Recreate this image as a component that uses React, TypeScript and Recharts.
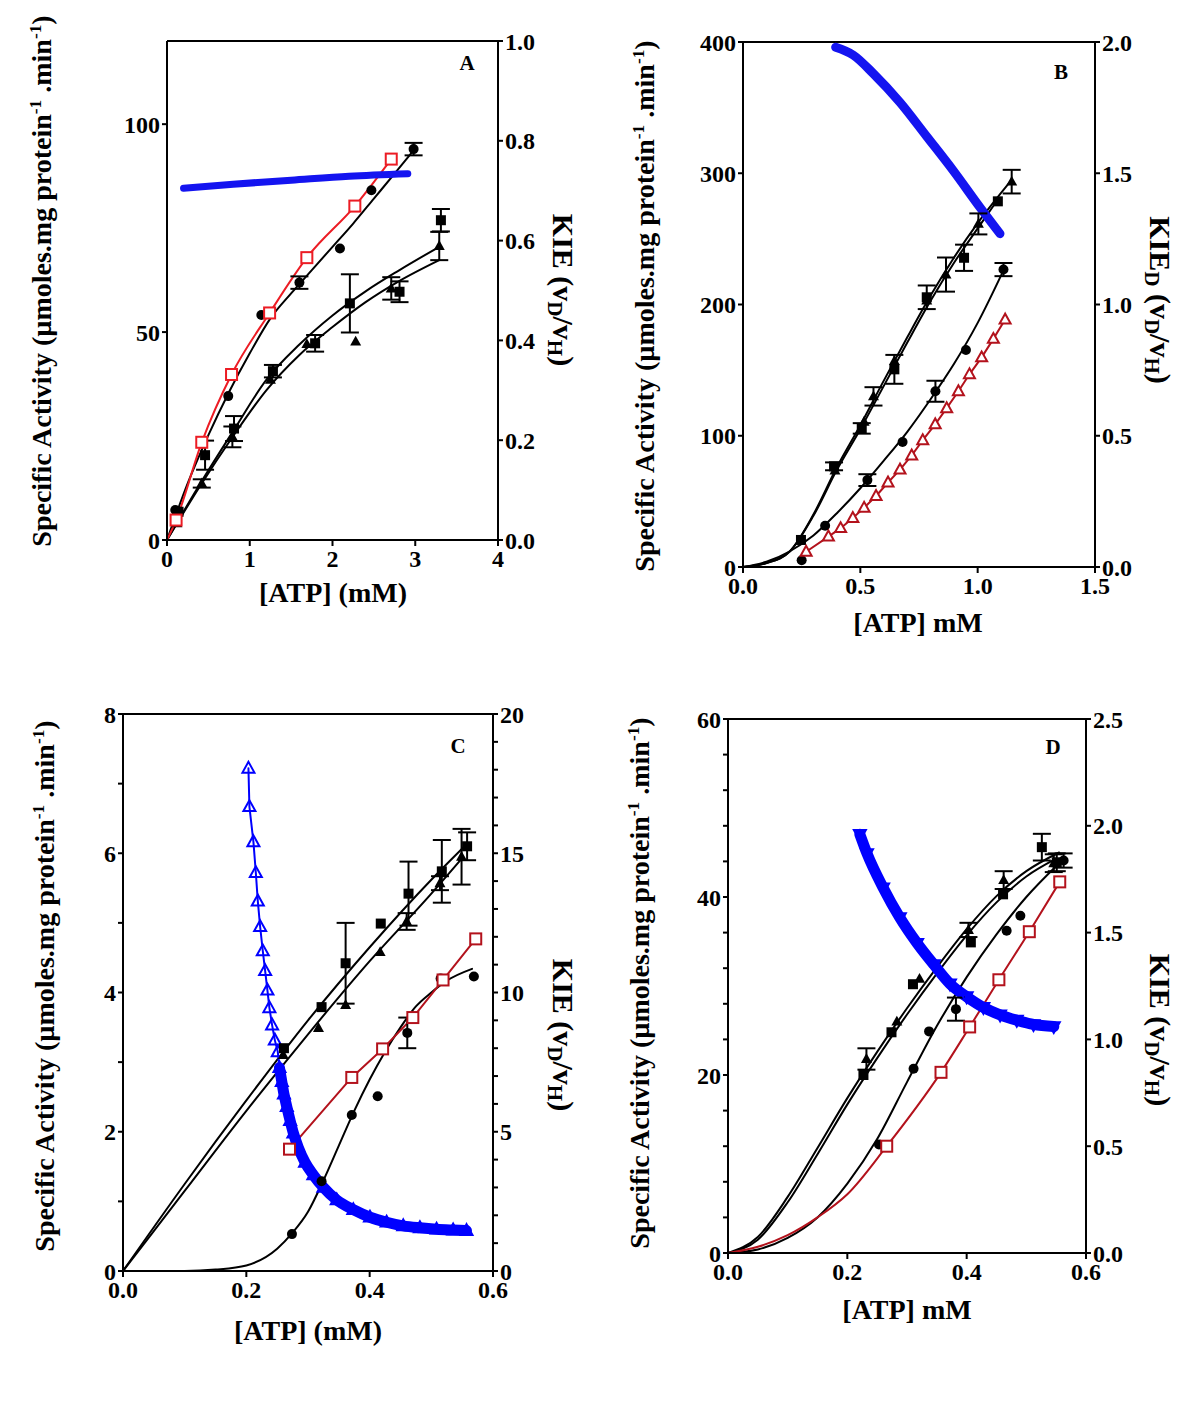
import React from 'react';
import { ComposedChart, Line, Scatter, XAxis, YAxis, ErrorBar, ReferenceLine } from 'recharts';

type Pt = { x: number; y: number; e?: number };

const SERIF = '"Liberation Serif", "Times New Roman", serif';
const RED_A = '#ec1c24';
const RED = '#b3121c';
const BLUE = '#0000ff';

// ---------- panel A ----------
const A_CIRCLES: Pt[] = [
  { x: 0.1, y: 7.2, e: 0 }, { x: 0.74, y: 34.6, e: 0 }, { x: 1.14, y: 54.1, e: 0 }, { x: 1.6, y: 61.9, e: 1.5 },
  { x: 2.09, y: 70.1, e: 0 }, { x: 2.47, y: 84.1, e: 0 }, { x: 2.98, y: 94.0, e: 1.5 },
];
const A_SQUARES: Pt[] = [
  { x: 0.14, y: 6.8, e: 0 }, { x: 0.46, y: 20.4, e: 3.5 }, { x: 0.81, y: 26.8, e: 3 }, { x: 1.28, y: 40.6, e: 1.5 },
  { x: 1.79, y: 47.3, e: 2 }, { x: 2.21, y: 56.9, e: 7 }, { x: 2.81, y: 59.7, e: 2.5 }, { x: 3.31, y: 76.9, e: 2.7 },
];
const A_TRIANGLES: Pt[] = [
  { x: 0.12, y: 4.0, e: 0 }, { x: 0.42, y: 13.6, e: 1 }, { x: 0.79, y: 24.8, e: 2.5 }, { x: 1.25, y: 38.5, e: 0 },
  { x: 1.69, y: 47.1, e: 0 }, { x: 2.28, y: 47.7, e: 0 }, { x: 2.71, y: 60.5, e: 2.7 }, { x: 3.29, y: 70.7, e: 3.4 },
];
const A_RED: Pt[] = [
  { x: 0.11, y: 4.8 }, { x: 0.42, y: 23.5 }, { x: 0.78, y: 39.8 }, { x: 1.24, y: 54.6 },
  { x: 1.69, y: 67.9 }, { x: 2.27, y: 80.3 }, { x: 2.71, y: 91.6 },
];
const A_FIT_CIRCLES: Pt[] = [
  { x: 0, y: 0 }, { x: 0.25, y: 13.6 }, { x: 0.5, y: 25.2 }, { x: 0.75, y: 35.6 }, { x: 1.0, y: 44.9 },
  { x: 1.25, y: 53.3 }, { x: 1.5, y: 59.3 }, { x: 1.75, y: 64.9 }, { x: 2.0, y: 70.5 }, { x: 2.25, y: 76.1 },
  { x: 2.5, y: 82.1 }, { x: 2.75, y: 88.1 }, { x: 2.98, y: 93.7 },
];
const A_FIT_UP: Pt[] = [
  { x: 0, y: 0 }, { x: 0.4, y: 13.5 }, { x: 0.8, y: 26.2 }, { x: 1.2, y: 38.5 }, { x: 1.6, y: 47 },
  { x: 2.0, y: 54 }, { x: 2.4, y: 59.8 }, { x: 2.8, y: 64.8 }, { x: 3.29, y: 70.5 },
];
const A_FIT_LO: Pt[] = [
  { x: 0, y: 0 }, { x: 0.4, y: 13 }, { x: 0.8, y: 25 }, { x: 1.2, y: 36 }, { x: 1.6, y: 44.5 },
  { x: 2.0, y: 51.2 }, { x: 2.4, y: 57.2 }, { x: 2.8, y: 62.2 }, { x: 3.29, y: 67.3 },
];
const A_KIE: Pt[] = [
  { x: 0.2, y: 0.705 }, { x: 0.8, y: 0.713 }, { x: 1.5, y: 0.721 }, { x: 2.2, y: 0.729 }, { x: 2.91, y: 0.734 },
];

// ---------- panel B ----------
const B_SQUARES: Pt[] = [
  { x: 0.247, y: 20.6, e: 0 }, { x: 0.388, y: 76.7, e: 3 }, { x: 0.506, y: 105.6, e: 4 }, { x: 0.645, y: 150.6, e: 11 },
  { x: 0.783, y: 205.5, e: 9 }, { x: 0.942, y: 235.6, e: 10 }, { x: 1.086, y: 278.6, e: 0 },
];
const B_TRIANGLES: Pt[] = [
  { x: 0.392, y: 73.4, e: 0 }, { x: 0.516, y: 110.7, e: 0 }, { x: 0.556, y: 130, e: 7 }, { x: 0.645, y: 157, e: 0 },
  { x: 0.783, y: 203, e: 0 }, { x: 0.865, y: 222.8, e: 13 }, { x: 1.003, y: 261.4, e: 8 }, { x: 1.145, y: 293.6, e: 9 },
];
const B_CIRCLES: Pt[] = [
  { x: 0.25, y: 5.2, e: 0 }, { x: 0.35, y: 31.4, e: 0 }, { x: 0.53, y: 66.2, e: 4.5 }, { x: 0.68, y: 95.3, e: 0 },
  { x: 0.82, y: 133.9, e: 8 }, { x: 0.95, y: 165.3, e: 0 }, { x: 1.11, y: 226.6, e: 5 },
];
const B_RED: Pt[] = [
  { x: 0.269, y: 11.6 }, { x: 0.364, y: 23.2 }, { x: 0.416, y: 29.6 }, { x: 0.468, y: 37.3 }, { x: 0.516, y: 45.1 },
  { x: 0.567, y: 54.1 }, { x: 0.618, y: 64.4 }, { x: 0.669, y: 74.2 }, { x: 0.719, y: 85 }, { x: 0.766, y: 96.6 },
  { x: 0.819, y: 108.7 }, { x: 0.868, y: 121 }, { x: 0.918, y: 133.9 }, { x: 0.965, y: 146.8 }, { x: 1.017, y: 159.7 },
  { x: 1.067, y: 173.8 }, { x: 1.117, y: 188.5 },
];
const B_FIT_T: Pt[] = [
  { x: 0, y: 0 }, { x: 0.1, y: 3 }, { x: 0.2, y: 12 }, { x: 0.3, y: 40 }, { x: 0.4, y: 76 }, { x: 0.5, y: 108 },
  { x: 0.6, y: 142 }, { x: 0.7, y: 175 }, { x: 0.8, y: 207 }, { x: 0.9, y: 236 }, { x: 1.0, y: 262 }, { x: 1.145, y: 295 },
];
const B_FIT_S: Pt[] = [
  { x: 0, y: 0 }, { x: 0.1, y: 3 }, { x: 0.2, y: 12 }, { x: 0.3, y: 39 }, { x: 0.4, y: 74 }, { x: 0.5, y: 105 },
  { x: 0.6, y: 138 }, { x: 0.7, y: 171 }, { x: 0.8, y: 203 }, { x: 0.9, y: 232 }, { x: 1.0, y: 258 }, { x: 1.086, y: 280 },
];
const B_FIT_C: Pt[] = [
  { x: 0, y: 0 }, { x: 0.1, y: 4 }, { x: 0.2, y: 12 }, { x: 0.3, y: 24 }, { x: 0.4, y: 41 }, { x: 0.5, y: 60 },
  { x: 0.6, y: 81 }, { x: 0.7, y: 103 }, { x: 0.8, y: 128 }, { x: 0.9, y: 155 }, { x: 1.0, y: 186 }, { x: 1.11, y: 226 },
];
const B_KIE: Pt[] = [
  { x: 0.395, y: 1.98 }, { x: 0.47, y: 1.95 }, { x: 0.555, y: 1.88 }, { x: 0.669, y: 1.77 },
  { x: 0.783, y: 1.64 }, { x: 0.896, y: 1.51 }, { x: 1.01, y: 1.37 }, { x: 1.095, y: 1.27 },
];

// ---------- panel C ----------
const C_SQUARES: Pt[] = [
  { x: 0.261, y: 3.2, e: 0 }, { x: 0.322, y: 3.79, e: 0 }, { x: 0.361, y: 4.42, e: 0.58 }, { x: 0.418, y: 4.99, e: 0 },
  { x: 0.463, y: 5.42, e: 0.46 }, { x: 0.517, y: 5.74, e: 0.45 }, { x: 0.558, y: 6.1, e: 0.2 },
];
const C_TRIANGLES: Pt[] = [
  { x: 0.26, y: 3.1, e: 0 }, { x: 0.317, y: 3.49, e: 0 }, { x: 0.361, y: 3.82, e: 0 }, { x: 0.417, y: 4.58, e: 0 },
  { x: 0.46, y: 5.02, e: 0.12 }, { x: 0.514, y: 5.57, e: 0.1 }, { x: 0.549, y: 5.95, e: 0.4 },
];
const C_CIRCLES: Pt[] = [
  { x: 0.274, y: 0.53, e: 0 }, { x: 0.322, y: 1.29, e: 0 }, { x: 0.371, y: 2.24, e: 0 }, { x: 0.413, y: 2.51, e: 0 },
  { x: 0.461, y: 3.42, e: 0.22 }, { x: 0.515, y: 4.2, e: 0 }, { x: 0.569, y: 4.23, e: 0 },
];
const C_RED: Pt[] = [
  { x: 0.27, y: 1.75 }, { x: 0.371, y: 2.78 }, { x: 0.421, y: 3.19 }, { x: 0.47, y: 3.64 }, { x: 0.519, y: 4.18 }, { x: 0.572, y: 4.77 },
];
const C_FIT_S: Pt[] = [
  { x: 0, y: 0 }, { x: 0.1, y: 1.25 }, { x: 0.2, y: 2.45 }, { x: 0.3, y: 3.6 }, { x: 0.4, y: 4.65 }, { x: 0.5, y: 5.62 }, { x: 0.556, y: 6.12 },
];
const C_FIT_T: Pt[] = [
  { x: 0, y: 0 }, { x: 0.1, y: 1.15 }, { x: 0.2, y: 2.3 }, { x: 0.3, y: 3.4 }, { x: 0.4, y: 4.45 }, { x: 0.5, y: 5.42 }, { x: 0.55, y: 5.93 },
];
const C_FIT_C: Pt[] = [
  { x: 0, y: 0 }, { x: 0.1, y: 0 }, { x: 0.15, y: 0.02 }, { x: 0.2, y: 0.08 }, { x: 0.25, y: 0.32 }, { x: 0.275, y: 0.55 },
  { x: 0.3, y: 0.85 }, { x: 0.325, y: 1.3 }, { x: 0.35, y: 1.8 }, { x: 0.375, y: 2.3 }, { x: 0.4, y: 2.75 },
  { x: 0.425, y: 3.15 }, { x: 0.45, y: 3.5 }, { x: 0.475, y: 3.8 }, { x: 0.5, y: 4.0 }, { x: 0.525, y: 4.17 }, { x: 0.566, y: 4.34 },
];
const C_KIE: Pt[] = [
  { x: 0.2034, y: 18.05 }, { x: 0.205, y: 16.67 }, { x: 0.2115, y: 15.41 }, { x: 0.2154, y: 14.3 }, { x: 0.2186, y: 13.28 },
  { x: 0.2224, y: 12.36 }, { x: 0.2267, y: 11.49 }, { x: 0.2305, y: 10.78 }, { x: 0.2342, y: 10.08 }, { x: 0.2374, y: 9.45 },
  { x: 0.2418, y: 8.83 }, { x: 0.2462, y: 8.29 }, { x: 0.251, y: 7.87 }, { x: 0.2537, y: 7.3 }, { x: 0.2575, y: 6.8 },
  { x: 0.261, y: 6.35 }, { x: 0.2656, y: 5.9 }, { x: 0.271, y: 5.4 }, { x: 0.2763, y: 4.95 }, { x: 0.2844, y: 4.43 },
  { x: 0.2952, y: 3.9 }, { x: 0.3087, y: 3.45 }, { x: 0.325, y: 3.0 }, { x: 0.3466, y: 2.55 }, { x: 0.3735, y: 2.2 },
  { x: 0.4005, y: 1.93 }, { x: 0.4275, y: 1.75 }, { x: 0.4544, y: 1.62 }, { x: 0.4815, y: 1.55 }, { x: 0.5085, y: 1.5 },
  { x: 0.5354, y: 1.47 }, { x: 0.557, y: 1.45 },
];

// ---------- panel D ----------
const D_SQUARES: Pt[] = [
  { x: 0.227, y: 20.0, e: 0 }, { x: 0.274, y: 24.8, e: 0 }, { x: 0.31, y: 30.2, e: 0 }, { x: 0.407, y: 34.9, e: 0 },
  { x: 0.461, y: 40.3, e: 0 }, { x: 0.526, y: 45.6, e: 1.5 }, { x: 0.551, y: 43.9, e: 1 },
];
const D_TRIANGLES: Pt[] = [
  { x: 0.232, y: 21.8, e: 1.2 }, { x: 0.283, y: 26.0, e: 0 }, { x: 0.321, y: 30.8, e: 0 }, { x: 0.403, y: 36.3, e: 0.8 },
  { x: 0.462, y: 41.9, e: 1 }, { x: 0.546, y: 43.8, e: 1 },
];
const D_CIRCLES: Pt[] = [
  { x: 0.253, y: 12.2, e: 0 }, { x: 0.311, y: 20.7, e: 0 }, { x: 0.337, y: 24.9, e: 0 }, { x: 0.382, y: 27.4, e: 1.3 },
  { x: 0.467, y: 36.2, e: 0 }, { x: 0.49, y: 37.9, e: 0 }, { x: 0.5625, y: 44.1, e: 0.8 },
];
const D_RED: Pt[] = [
  { x: 0.266, y: 12.0 }, { x: 0.357, y: 20.3 }, { x: 0.405, y: 25.4 }, { x: 0.454, y: 30.7 }, { x: 0.505, y: 36.1 }, { x: 0.556, y: 41.7 },
];
const D_FIT_T: Pt[] = [
  { x: 0, y: 0 }, { x: 0.05, y: 1.8 }, { x: 0.1, y: 6.3 }, { x: 0.15, y: 11.8 }, { x: 0.2, y: 17.4 }, { x: 0.25, y: 22.6 },
  { x: 0.3, y: 27.5 }, { x: 0.35, y: 32.1 }, { x: 0.4, y: 36.4 }, { x: 0.45, y: 40.1 }, { x: 0.5, y: 42.9 }, { x: 0.555, y: 45.0 },
];
const D_FIT_S: Pt[] = [
  { x: 0, y: 0 }, { x: 0.05, y: 1.5 }, { x: 0.1, y: 5.7 }, { x: 0.15, y: 11.1 }, { x: 0.2, y: 16.7 }, { x: 0.25, y: 21.9 },
  { x: 0.3, y: 26.8 }, { x: 0.35, y: 31.4 }, { x: 0.4, y: 35.7 }, { x: 0.45, y: 39.4 }, { x: 0.5, y: 42.3 }, { x: 0.55, y: 44.3 },
];
const D_FIT_C: Pt[] = [
  { x: 0, y: 0 }, { x: 0.05, y: 0.4 }, { x: 0.1, y: 1.7 }, { x: 0.15, y: 4.0 }, { x: 0.2, y: 7.8 }, { x: 0.25, y: 12.8 },
  { x: 0.3, y: 19.2 }, { x: 0.35, y: 25.5 }, { x: 0.4, y: 31.0 }, { x: 0.45, y: 35.8 }, { x: 0.5, y: 40.0 }, { x: 0.555, y: 43.8 },
];
const D_FIT_RED: Pt[] = [
  { x: 0, y: 0 }, { x: 0.05, y: 0.7 }, { x: 0.1, y: 2.0 }, { x: 0.15, y: 4.0 }, { x: 0.2, y: 6.6 }, { x: 0.266, y: 12.0 },
  { x: 0.357, y: 20.3 }, { x: 0.405, y: 25.4 }, { x: 0.454, y: 30.7 }, { x: 0.505, y: 36.1 }, { x: 0.556, y: 41.7 },
];
const D_KIE: Pt[] = [
  { x: 0.221, y: 1.96 }, { x: 0.233, y: 1.87 }, { x: 0.26, y: 1.71 }, { x: 0.288, y: 1.57 }, { x: 0.317, y: 1.45 },
  { x: 0.345, y: 1.35 }, { x: 0.372, y: 1.26 }, { x: 0.4, y: 1.2 }, { x: 0.428, y: 1.15 }, { x: 0.456, y: 1.115 },
  { x: 0.484, y: 1.09 }, { x: 0.512, y: 1.07 }, { x: 0.546, y: 1.06 },
];

// ---------- markers ----------
const dotCircle = (r: number) => (p: any) => <circle key={p.index} cx={p.cx} cy={p.cy} r={r} fill="#000" />;
const dotSquare = (s: number, fill: string, stroke: string, sw = 0) => (p: any) => (
  <rect key={p.index} x={p.cx - s / 2} y={p.cy - s / 2} width={s} height={s} fill={fill} stroke={stroke} strokeWidth={sw} />
);
const dotTri = (s: number, fill: string, stroke: string, sw = 0, down = false) => (p: any) => {
  const h = s * 0.9;
  const d = down ? -1 : 1;
  const pts = `${p.cx},${p.cy - d * h * 0.6} ${p.cx - s / 2},${p.cy + d * h * 0.4} ${p.cx + s / 2},${p.cy + d * h * 0.4}`;
  return <polygon key={p.index} points={pts} fill={fill} stroke={stroke} strokeWidth={sw} strokeLinejoin="miter" />;
};

const curve = (key: string, data: Pt[], color: string, width = 2, axis = 'l', type: any = 'monotone') => (
  <Line key={key} data={data} dataKey="y" yAxisId={axis} type={type} stroke={color} strokeWidth={width}
    dot={false} activeDot={false} isAnimationActive={false} strokeLinecap="round" strokeLinejoin="round" />
);
const points = (key: string, data: Pt[], shape: any, bars = true) => (
  <Scatter key={key} data={data} dataKey="y" yAxisId="l" shape={shape} isAnimationActive={false}>
    {bars ? <ErrorBar dataKey="e" direction="y" width={9} stroke="#000" strokeWidth={2} /> : null}
  </Scatter>
);

const tickStyle = { fill: '#000', fontSize: 24, fontWeight: 700, fontFamily: SERIF };
const blackLine = { stroke: '#000', strokeWidth: 2 };

interface PanelProps {
  x0: number; y0: number; w: number; h: number;
  xDomain: [number, number]; xTicks: number[]; xFmt: (v: number) => string;
  lDomain: [number, number]; lTicks: number[]; lFmt: (v: number) => string;
  rDomain: [number, number]; rTicks: number[]; rFmt: (v: number) => string;
  children: React.ReactNode;
}

function Panel(p: PanelProps) {
  const WL = 70, WR = 70, MT = 20, HX = 44;
  return (
    <div style={{ position: 'absolute', left: p.x0 - WL, top: p.y0 - MT }}>
      <ComposedChart width={WL + p.w + WR} height={MT + p.h + HX} margin={{ top: MT, right: 0, bottom: 0, left: 0 }}>
        <XAxis dataKey="x" type="number" domain={p.xDomain} ticks={p.xTicks} tickFormatter={p.xFmt} interval={0}
          allowDataOverflow tick={tickStyle} axisLine={blackLine} tickLine={blackLine} tickSize={6} tickMargin={4} height={HX} />
        <YAxis yAxisId="l" dataKey="y" type="number" domain={p.lDomain} ticks={p.lTicks} tickFormatter={p.lFmt} interval={0}
          allowDataOverflow tick={tickStyle} axisLine={blackLine} tickLine={blackLine} tickSize={5} tickMargin={2} width={WL} />
        <YAxis yAxisId="r" orientation="right" type="number" domain={p.rDomain} ticks={p.rTicks} tickFormatter={p.rFmt} interval={0}
          allowDataOverflow tick={tickStyle} axisLine={blackLine} tickLine={blackLine} tickSize={5} tickMargin={2} width={WR} />
        <ReferenceLine yAxisId="l" y={p.lDomain[1]} stroke="#000" strokeWidth={2} />
        {p.children}
      </ComposedChart>
    </div>
  );
}

function VTitle({ x, y, rot, size = 28, children }: { x: number; y: number; rot: number; size?: number; children: React.ReactNode }) {
  return (
    <div style={{
      position: 'absolute', left: x, top: y, transform: `translate(-50%, -50%) rotate(${rot}deg)`,
      whiteSpace: 'nowrap', fontFamily: SERIF, fontWeight: 700, fontSize: size, lineHeight: 1, color: '#000',
    }}>{children}</div>
  );
}

const sup = (t: string) => <sup style={{ fontSize: '0.62em', verticalAlign: '0.55em', lineHeight: 0 }}>{t}</sup>;
const sub = (t: string) => <sub style={{ fontSize: '0.7em', verticalAlign: '-0.25em', lineHeight: 0 }}>{t}</sub>;

const activityTitle = <>Specific Activity (µmoles.mg protein{sup('-1')} .min{sup('-1')})</>;
const kieTitle = <>KIE (v{sub('D')}/v{sub('H')})</>;

const int = (v: number) => String(v);
const one = (v: number) => v.toFixed(1);

export default function App() {
  return (
    <div style={{ position: 'absolute', left: 0, top: 0, width: 1200, height: 1407, background: '#fff' }}>
      {/* A */}
      <Panel x0={167} y0={41} w={331} h={499} xDomain={[0, 4]} xTicks={[0, 1, 2, 3, 4]} xFmt={int}
        lDomain={[0, 120]} lTicks={[0, 50, 100]} lFmt={int}
        rDomain={[0, 1]} rTicks={[0, 0.2, 0.4, 0.6, 0.8, 1.0]} rFmt={one}>
        {[
          curve('afu', A_FIT_UP, '#000'),
          curve('afl', A_FIT_LO, '#000'),
          curve('afc', A_FIT_CIRCLES, '#000'),
          curve('ared', [{ x: 0, y: 0 }, ...A_RED], RED_A),
          curve('akie', A_KIE, '#1414f0', 7, 'r'),
          points('asq', A_SQUARES, dotSquare(10, '#000', '#000')),
          points('atr', A_TRIANGLES, dotTri(11, '#000', '#000')),
          points('aci', A_CIRCLES, dotCircle(5)),
          points('ared-p', A_RED, dotSquare(11, '#fff', RED_A, 2), false),
        ]}
      </Panel>

      {/* B */}
      <Panel x0={743} y0={42} w={352} h={525} xDomain={[0, 1.5]} xTicks={[0, 0.5, 1, 1.5]} xFmt={one}
        lDomain={[0, 400]} lTicks={[0, 100, 200, 300, 400]} lFmt={int}
        rDomain={[0, 2]} rTicks={[0, 0.5, 1, 1.5, 2]} rFmt={one}>
        {[
          curve('bft', B_FIT_T, '#000'),
          curve('bfs', B_FIT_S, '#000'),
          curve('bfc', B_FIT_C, '#000'),
          curve('bred', B_RED, RED, 2, 'l', 'linear'),
          curve('bkie', B_KIE, '#1414f0', 9, 'r'),
          points('bsq', B_SQUARES, dotSquare(10, '#000', '#000')),
          points('btr', B_TRIANGLES, dotTri(11, '#000', '#000')),
          points('bci', B_CIRCLES, dotCircle(5)),
          points('bred-p', B_RED, dotTri(11, '#fff', RED, 2), false),
        ]}
      </Panel>

      {/* C */}
      <Panel x0={123} y0={714} w={370} h={557} xDomain={[0, 0.6]} xTicks={[0, 0.2, 0.4, 0.6]} xFmt={one}
        lDomain={[0, 8]} lTicks={[0, 1, 2, 3, 4, 5, 6, 7, 8]} lFmt={(v) => (v % 2 === 0 ? String(v) : '')}
        rDomain={[0, 20]} rTicks={[0, 1, 2, 3, 4, 5, 6, 7, 8, 9, 10, 11, 12, 13, 14, 15, 16, 17, 18, 19, 20]}
        rFmt={(v) => (v % 5 === 0 ? String(v) : '')}>
        {[
          curve('cfs', C_FIT_S, '#000'),
          curve('cft', C_FIT_T, '#000'),
          curve('cfc', C_FIT_C, '#000'),
          curve('cred', C_RED, RED, 2, 'l', 'linear'),
          curve('ckie', C_KIE, BLUE, 2, 'r', 'linear'),
          curve('cband', C_KIE.slice(13), BLUE, 11, 'r'),
          <Line key="ckie-d" data={C_KIE} dataKey="y" yAxisId="r" type="linear" stroke="none" isAnimationActive={false}
            dot={dotTri(12, 'none', BLUE, 2)} activeDot={false} />,
          points('csq', C_SQUARES, dotSquare(10, '#000', '#000')),
          points('ctr', C_TRIANGLES, dotTri(11, '#000', '#000')),
          points('cci', C_CIRCLES, dotCircle(5)),
          points('cred-p', C_RED, dotSquare(11, '#fff', RED, 2), false),
        ]}
      </Panel>

      {/* D */}
      <Panel x0={728} y0={719} w={358} h={534} xDomain={[0, 0.6]} xTicks={[0, 0.2, 0.4, 0.6]} xFmt={one}
        lDomain={[0, 60]} lTicks={[0, 4, 8, 12, 16, 20, 24, 28, 32, 36, 40, 44, 48, 52, 56, 60]}
        lFmt={(v) => (v % 20 === 0 ? String(v) : '')}
        rDomain={[0, 2.5]} rTicks={[0, 0.5, 1, 1.5, 2, 2.5]} rFmt={one}>
        {[
          curve('dft', D_FIT_T, '#000'),
          curve('dfs', D_FIT_S, '#000'),
          curve('dfc', D_FIT_C, '#000'),
          curve('dred', D_FIT_RED, RED),
          curve('dband', D_KIE, BLUE, 11, 'r'),
          <Line key="dkie-d" data={D_KIE} dataKey="y" yAxisId="r" type="monotone" stroke="none" isAnimationActive={false}
            dot={dotTri(12, 'none', BLUE, 2, true)} activeDot={false} />,
          points('dsq', D_SQUARES, dotSquare(10, '#000', '#000')),
          points('dtr', D_TRIANGLES, dotTri(11, '#000', '#000')),
          points('dci', D_CIRCLES, dotCircle(5)),
          points('dred-p', D_RED, dotSquare(11, '#fff', RED, 2), false),
        ]}
      </Panel>

      {/* panel letters */}
      <VTitle x={467} y={63} rot={0} size={21}>A</VTitle>
      <VTitle x={1061} y={72} rot={0} size={21}>B</VTitle>
      <VTitle x={458} y={746} rot={0} size={21}>C</VTitle>
      <VTitle x={1053} y={747} rot={0} size={21}>D</VTitle>

      {/* x titles */}
      <VTitle x={333} y={593} rot={0}>[ATP] (mM)</VTitle>
      <VTitle x={918} y={623} rot={0}>[ATP] mM</VTitle>
      <VTitle x={308} y={1331} rot={0}>[ATP] (mM)</VTitle>
      <VTitle x={907} y={1310} rot={0}>[ATP] mM</VTitle>

      {/* left titles */}
      <VTitle x={42} y={281} rot={-90}>{activityTitle}</VTitle>
      <VTitle x={645} y={306} rot={-90}>{activityTitle}</VTitle>
      <VTitle x={45} y={986} rot={-90}>{activityTitle}</VTitle>
      <VTitle x={640} y={983} rot={-90}>{activityTitle}</VTitle>

      {/* right titles */}
      <VTitle x={563} y={290} rot={90} size={30}>{kieTitle}</VTitle>
      <VTitle x={1160} y={300} rot={90} size={30}>KIE{sub('D')} (v{sub('D')}/v{sub('H')})</VTitle>
      <VTitle x={563} y={1035} rot={90} size={30}>{kieTitle}</VTitle>
      <VTitle x={1160} y={1030} rot={90} size={30}>{kieTitle}</VTitle>
    </div>
  );
}
